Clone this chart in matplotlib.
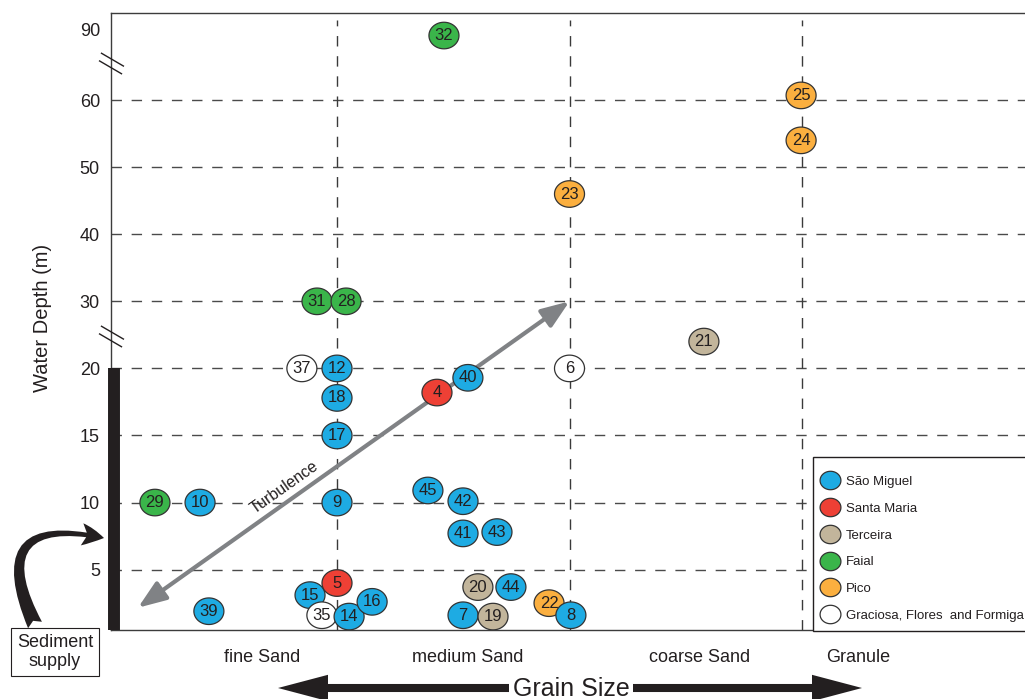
import numpy as np
import matplotlib
matplotlib.use('Agg')
import matplotlib.pyplot as plt
from matplotlib.path import Path
from matplotlib.lines import Line2D
from matplotlib.patches import Rectangle
from matplotlib.ticker import NullLocator

plt.rcParams['font.family'] = ['Liberation Sans', 'DejaVu Sans']

# islands and their colours
islands = ['São Miguel', 'Santa Maria', 'Terceira', 'Faial', 'Pico',
           'Graciosa, Flores  and Formiga']
island_colors = ['#1EABE3', '#EE4035', '#C2B59B', '#3AB54A', '#FBAF3F', '#FFFFFF']

# samples (drawing order), grain size position, water depth (m), island index
sample_ids = [31, 28, 37, 12, 18, 17, 4, 40, 29, 10, 9, 45, 42, 41, 43,
              15, 5, 35, 14, 16, 39, 20, 44, 7, 19, 22, 8, 6, 21, 23, 24, 25, 32]
grain_pos = [0.914, 1.039, 0.849, 1.0, 1.0, 1.0, 1.430, 1.563, 0.217, 0.411, 1.0,
             1.391, 1.542, 1.542, 1.688, 0.884, 1.0, 0.935, 1.052, 1.151, 0.449,
             1.606, 1.748, 1.542, 1.671, 1.912, 2.006, 2.0, 2.578, 2.0, 2.996, 2.996, 1.460]
depth_m = [30, 30, 20, 20, 17.8, 15, 18.2, 19.3, 10, 10, 10,
           10.9, 10.1, 7.7, 7.8, 3.1, 4.0, 1.6, 1.5, 2.6, 1.9,
           3.7, 3.7, 1.6, 1.5, 2.5, 1.6, 20, 24, 46, 54, 62, 87.5]
island_idx = [3, 3, 5, 0, 0, 0, 1, 0, 3, 0, 0,
              0, 0, 0, 0, 0, 1, 5, 0, 0, 0,
              2, 0, 0, 2, 4, 0, 5, 2, 4, 4, 4, 3]

grain_classes = ['fine Sand', 'medium Sand', 'coarse Sand', 'Granule']
grain_label_pos = [0.68, 1.563, 2.561, 3.243]
class_bounds = [1, 2, 3]
depth_ticks = [5, 10, 15, 20, 30, 40, 50, 60, 90]
depth_grid = [5, 10, 15, 20, 30, 40, 50, 60]

ink = '#231F20'


# broken depth axis: 5 m steps up to 20, 10 m steps up to 60, then one step to 90
def fwd(d):
    d = np.asarray(d, dtype=float)
    return np.where(d <= 20, d / 5, np.where(d <= 60, 4 + (d - 20) / 10, 8 + (d - 60) / 30 * 1.05))


def inv(f):
    f = np.asarray(f, dtype=float)
    return np.where(f <= 4, f * 5, np.where(f <= 8, 20 + (f - 4) * 10, 60 + (f - 8) / 1.05 * 30))


fig = plt.figure(figsize=(10.25, 6.99), dpi=100)
ax = fig.add_axes([111 / 1025, 1 - 630 / 699, 914 / 1025, 617 / 699])
ax.set_yscale('function', functions=(fwd, inv))
ax.set_xlim(0.028, 3.959)
ax.set_ylim(0.5, 97.1)

# dashed guide lines
ax.hlines(depth_grid, 0.028, 3.959, colors='#4a4a4a', lw=1.0, linestyles=(0, (7.5, 7)), zorder=1)
ax.vlines(class_bounds, 0.5, 94, colors='#3a3a3a', lw=1.0, linestyles=(0, (7.5, 7)), zorder=1)

# turbulence arrow
ax.annotate('', xy=(0.144, 2.16), xytext=(2.0, 30),
            arrowprops=dict(arrowstyle='<|-|>,head_length=0.85,head_width=0.32',
                            color='#808285', lw=3, mutation_scale=20, shrinkA=0, shrinkB=0),
            zorder=2)
ax.text(0.772, 11.1, 'Turbulence', rotation=35.3, rotation_mode='anchor',
        ha='center', va='center', fontsize=11.5, color=ink, zorder=2)

# ellipse markers
t = np.linspace(0, 2 * np.pi, 80)
ellipse = Path(np.column_stack([1.13 * np.cos(t), np.sin(t)]), closed=True)
colors = [island_colors[i] for i in island_idx]
ax.scatter(grain_pos, depth_m, s=467, marker=ellipse, c=colors,
           edgecolors='#333333', linewidths=0.9, zorder=3)
for sid, x, d in zip(sample_ids, grain_pos, depth_m):
    ax.text(x, d, str(sid), ha='center', va='center', fontsize=12, color=ink, zorder=4)

# sediment supply bar along the axis
ax.plot([0.0409, 0.0409], [20, 0.5], color=ink, lw=8.6, solid_capstyle='butt',
        clip_on=False, zorder=6)

# axis break marks
brk = Path([(-11, 11), (13, -3), (-13, 3), (11, -11)],
           [Path.MOVETO, Path.LINETO, Path.MOVETO, Path.LINETO])
ax.plot([0, 0], [24.8, 76], transform=ax.get_yaxis_transform(), ls='none',
        marker=brk, ms=18, mfc='none', mec=ink, mew=1.0, clip_on=False, zorder=6)

# axes styling
for side in ['left', 'top', 'bottom']:
    ax.spines[side].set_color('#3c3c3c')
    ax.spines[side].set_linewidth(1.0)
ax.spines['right'].set_visible(False)
ax.set_yticks(depth_ticks)
ax.set_yticklabels([str(v) for v in depth_ticks])
ax.yaxis.set_minor_locator(NullLocator())
ax.set_xticks(grain_label_pos)
ax.set_xticklabels(grain_classes)
ax.tick_params(axis='y', length=0, pad=8, labelsize=13, labelcolor=ink)
ax.tick_params(axis='x', length=0, pad=14, labelsize=13, labelcolor=ink)
ax.set_ylabel('Water Depth (m)', fontsize=14.5, color=ink)
ax.yaxis.set_label_coords(-0.0645, 0.505)

# legend: frame drawn separately so the entries sit where the reference has them
ax.add_patch(Rectangle((813 / 1025, (699 - 631) / 699), 0.25, (631 - 457) / 699,
                       transform=fig.transFigure, fc='white', ec=ink, lw=1.0,
                       clip_on=False, zorder=5))
handles = [Line2D([], [], ls='none', marker=ellipse, ms=15, mfc=c, mec='#333333', mew=0.9)
           for c in island_colors]
leg = ax.legend(handles, islands, loc='upper left', bbox_to_anchor=(806 / 1025, 1 - 458 / 699),
                bbox_transform=fig.transFigure, borderaxespad=0, fontsize=9.5,
                frameon=False, handlelength=1.0, handletextpad=0.7,
                borderpad=1.35, labelspacing=1.1)
leg.set_zorder(6)
for txt in leg.get_texts():
    txt.set_color(ink)

# sediment supply label and curved arrow
fig.text(55 / 1025, 1 - 652 / 699, 'Sediment\nsupply', ha='center', va='center',
         multialignment='center', fontsize=13, color=ink,
         bbox=dict(boxstyle='square,pad=0.3', fc='white', ec=ink, lw=0.8))
ax.annotate('', xy=(104, 161), xytext=(35, 74), xycoords='figure pixels',
            textcoords='figure pixels', annotation_clip=False,
            arrowprops=dict(arrowstyle='fancy,head_length=0.8,head_width=0.8,tail_width=0.55',
                            connectionstyle='arc3,rad=-1.0', color=ink, lw=0,
                            mutation_scale=20, shrinkA=0, shrinkB=0))

# grain size arrow
for tip in [278, 862]:
    ax.annotate('', xy=(tip, 11), xytext=(571, 11), xycoords='figure pixels',
                textcoords='figure pixels', annotation_clip=False,
                arrowprops=dict(arrowstyle='simple,head_length=3.6,head_width=1.9,tail_width=0.58',
                                color=ink, lw=0, mutation_scale=10, shrinkA=0, shrinkB=0))
fig.text(571 / 1025, 10 / 699, 'Grain Size', ha='center', va='center', fontsize=18,
         color=ink, bbox=dict(boxstyle='square,pad=0.15', fc='white', ec='none'))

fig.savefig('out.png', dpi=100)
